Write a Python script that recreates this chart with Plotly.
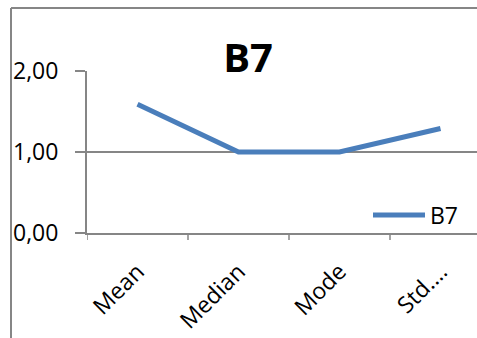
import plotly.graph_objects as go

# Summary statistics for item B7
categories = ["Mean", "Median", "Mode", "Std.…"]
values = [1.59, 1.00, 1.00, 1.29]
series_name = "B7"
y_ticks = [0, 1, 2]

W, H = 477, 338
plot_left, plot_right = 87, 477
plot_top, plot_bottom = 71, 233

FONT = "Open Sans"
GRID = "#868686"
LINE = "#4A7EBB"

fig = go.Figure()
fig.add_trace(go.Scatter(
    x=list(range(len(categories))),
    y=values,
    mode="lines",
    name=series_name,
    line=dict(color=LINE, width=5),
))

# spacing between category slots, in pixels
slot = 101
x_end = -0.5 + (plot_right - plot_left) / slot

pw = plot_right - plot_left
ph = plot_bottom - plot_top


def px_x(px):
    return (px - plot_left) / pw


def px_y(py):
    return (plot_bottom - py) / ph


fig.update_layout(
    width=W,
    height=H,
    margin=dict(l=plot_left, r=W - plot_right, t=plot_top, b=H - plot_bottom, pad=0),
    paper_bgcolor="white",
    plot_bgcolor="white",
    separators=",.",
    font=dict(family=FONT, size=23, color="black"),
    title=dict(
        text="<b>B7</b>",
        font=dict(family=FONT, size=40, color="black"),
        x=248 / W,
        xanchor="center",
        y=1 - 58 / H,
        yanchor="middle",
    ),
    showlegend=True,
    legend=dict(
        x=px_x(464),
        xanchor="right",
        y=px_y(215),
        yanchor="middle",
        itemwidth=52,
        bgcolor="rgba(0,0,0,0)",
        borderwidth=0,
        font=dict(family=FONT, size=23, color="black"),
    ),
    xaxis=dict(
        range=[-0.5, x_end],
        tickmode="array",
        tickvals=list(range(len(categories))),
        ticktext=categories,
        tickangle=-45,
        showgrid=False,
        zeroline=False,
        showline=True,
        linecolor=GRID,
        linewidth=2,
        ticks="",
        ticklabelstandoff=14,
        fixedrange=True,
    ),
    yaxis=dict(
        range=[0, 2],
        tickmode="array",
        tickvals=y_ticks,
        tickformat=".2f",
        showgrid=True,
        gridcolor=GRID,
        gridwidth=1.5,
        zeroline=False,
        showline=True,
        linecolor=GRID,
        linewidth=2,
        ticks="outside",
        ticklen=10,
        tickcolor=GRID,
        tickwidth=1.5,
        ticklabelstandoff=12,
        fixedrange=True,
    ),
)

# category boundary tick marks along the horizontal axis
for b in [i - 0.5 for i in range(len(categories) + 1)]:
    if b <= x_end:
        fig.add_shape(type="line", xref="x", yref="paper",
                      x0=b, x1=b, y0=0, y1=px_y(240),
                      line=dict(color=GRID, width=1.5))

# outer chart frame (top and left edges)
fig.add_shape(type="line", xref="paper", yref="paper",
              x0=px_x(11), x1=px_x(W + 2), y0=px_y(8), y1=px_y(8),
              line=dict(color=GRID, width=2))
fig.add_shape(type="line", xref="paper", yref="paper",
              x0=px_x(11), x1=px_x(11), y0=px_y(8), y1=px_y(H + 2),
              line=dict(color=GRID, width=2))

fig.write_html("out.html")
